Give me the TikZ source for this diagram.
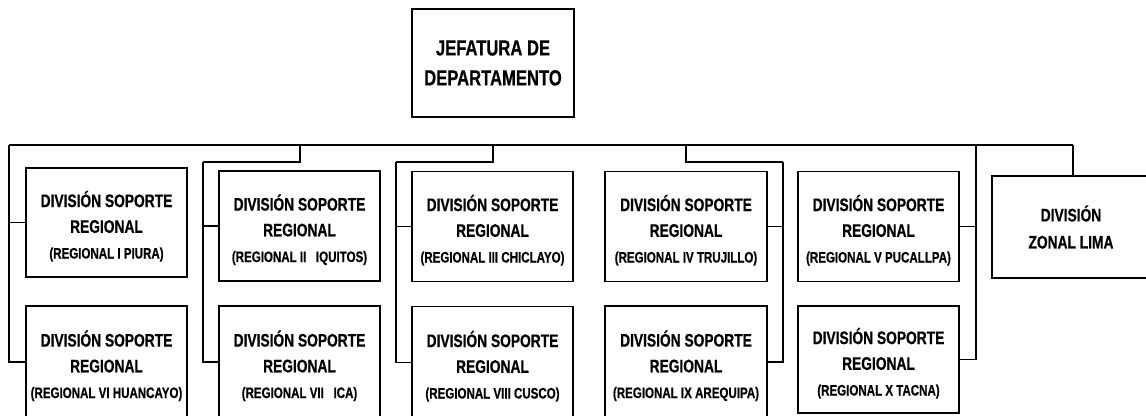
\documentclass[tikz,border=0pt]{standalone}
\usepackage{fontspec}
\setmainfont[FakeStretch=0.76, BoldFeatures={FakeBold=0.6}]{Liberation Sans}
\newcommand{\subf}{\fontsize{11.4}{14}\selectfont}
\newcommand{\dl}{\rule{0pt}{17.8pt}DIVISIÓN SOPORTE\\REGIONAL\\}
\begin{document}
\begin{tikzpicture}[x=0.75pt,y=-0.75pt,
  line width=0.9pt,
  bx/.style n args={2}{draw, inner sep=0pt, align=center,
    minimum width=#1*0.75pt, minimum height=#2*0.75pt,
    font=\bfseries\fontsize{13.6}{19.3}\selectfont},
  wire/.style={draw, line width=0.9pt}]
\useasboundingbox (0,0) rectangle (1146,415);
% top
\node[bx={162}{108}, font=\bfseries\fontsize{16.4}{22.5}\selectfont] (jefe) at (493,63) {JEFATURA DE\\DEPARTAMENTO};
% upper row
\node[bx={161}{109}] (r1) at (106.5,222.5) {\dl{\subf (REGIONAL I PIURA)}};
\node[bx={161}{110}] (r2) at (299.5,226) {\dl{\subf (REGIONAL II \ \ IQUITOS)}};
\node[bx={161}{110}] (r3) at (492.5,226.5) {\dl{\subf (REGIONAL III CHICLAYO)}};
\node[bx={162}{110}] (r4) at (686,226.5) {\dl{\subf (REGIONAL IV TRUJILLO)}};
\node[bx={161}{110}] (r5) at (878.5,226.5) {\dl{\subf (REGIONAL V PUCALLPA)}};
\node[bx={158}{102}] (lima) at (1071,227) {DIVISIÓN\\[1pt]ZONAL LIMA};
% lower row
\node[bx={161}{112}] (r6) at (106.5,362) {\dl{\subf (REGIONAL VI HUANCAYO)}};
\node[bx={161}{112}] (r7) at (299.5,362) {\dl{\subf (REGIONAL VII \ \ ICA)}};
\node[bx={161}{112}] (r8) at (492.5,362.5) {\dl{\subf (REGIONAL VIII CUSCO)}};
\node[bx={162}{112}] (r9) at (686,362) {\dl{\subf (REGIONAL IX AREQUIPA)}};
\node[bx={161}{107}] (r10) at (878.5,359.5) {\dl{\subf (REGIONAL X TACNA)}};
% bus coordinates
\coordinate (c1) at (9,145);
\coordinate (c2) at (300,145);
\coordinate (c2b) at (203,162);
\coordinate (c3) at (493,145);
\coordinate (c3b) at (396,162);
\coordinate (c4) at (686,145);
\coordinate (c4b) at (783,162);
\coordinate (c5) at (976,145);
\coordinate (c6) at (1073,145);
% main bus
\draw[wire] (c1) -- (c6);
% column 1
\draw[wire] (r1.west) -| (c1);
\draw[wire] (r6.west) -| (c1);
% column 2
\draw[wire] (c2) |- (c2b);
\draw[wire] (r2.west) -| (c2b);
\draw[wire] (r7.west) -| (c2b);
% column 3
\draw[wire] (c3) |- (c3b);
\draw[wire] (r3.west) -| (c3b);
\draw[wire] (r8.west) -| (c3b);
% column 4
\draw[wire] (c4) |- (c4b);
\draw[wire] (r4.east) -| (c4b);
\draw[wire] (r9.east) -| (c4b);
% column 5
\draw[wire] (r5.east) -| (c5);
\draw[wire] (r10.east) -| (c5);
% lima
\draw[wire] (c6) -- (c6 |- lima.north);
\end{tikzpicture}
\end{document}
